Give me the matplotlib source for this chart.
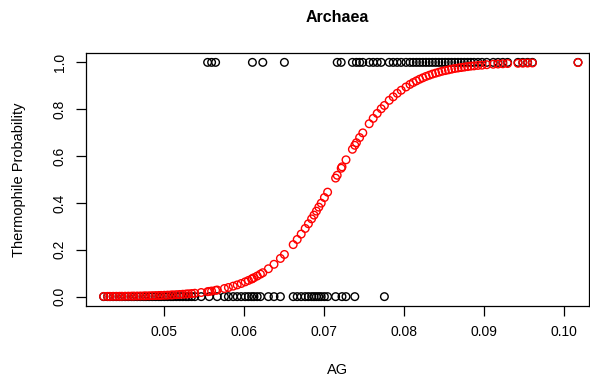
import matplotlib
matplotlib.use('Agg')
import matplotlib.pyplot as plt

plt.rcParams['font.family'] = ['Liberation Sans', 'DejaVu Sans']

# observed non-thermophiles (y = 0)
ag_neg = [0.0425, 0.0430, 0.0433, 0.0437, 0.0441, 0.0445, 0.0448, 0.0452, 0.0456, 0.0460,
          0.0463, 0.0467, 0.0471, 0.0475, 0.0478, 0.0482, 0.0486, 0.0490, 0.0494, 0.0497,
          0.0501, 0.0505, 0.0509, 0.0512, 0.0516, 0.0520, 0.0524, 0.0528, 0.0531, 0.0535,
          0.0539, 0.0547, 0.0557, 0.0567, 0.0576, 0.0581, 0.0587, 0.0592, 0.0597, 0.0602,
          0.0606, 0.0610, 0.0613, 0.0617, 0.0621, 0.0631, 0.0638, 0.0646, 0.0662, 0.0667,
          0.0672, 0.0677, 0.0681, 0.0685, 0.0688, 0.0691, 0.0694, 0.0697, 0.0701, 0.0705,
          0.0715, 0.0723, 0.0728, 0.0739, 0.0776]
prob_neg = [0.0009, 0.0011, 0.0011, 0.0013, 0.0014, 0.0015, 0.0016, 0.0018, 0.0020, 0.0022,
            0.0024, 0.0026, 0.0028, 0.0031, 0.0034, 0.0037, 0.0041, 0.0045, 0.0050, 0.0053,
            0.0059, 0.0064, 0.0071, 0.0076, 0.0084, 0.0092, 0.0102, 0.0112, 0.0120, 0.0132,
            0.0145, 0.0176, 0.0223, 0.0282, 0.0346, 0.0389, 0.0448, 0.050, 0.056, 0.063,
            0.069, 0.075, 0.081, 0.088, 0.096, 0.119, 0.138, 0.163, 0.222, 0.244,
            0.267, 0.291, 0.311, 0.332, 0.348, 0.365, 0.382, 0.399, 0.423, 0.446,
            0.506, 0.554, 0.584, 0.646, 0.816]

# observed thermophiles (y = 1)
ag_pos = [0.0555, 0.0560, 0.0565, 0.0611, 0.0624, 0.0651, 0.0717, 0.0722, 0.0736, 0.0741,
          0.0745, 0.0749, 0.0757, 0.0762, 0.0767, 0.0772, 0.0782, 0.0787, 0.0792, 0.0797,
          0.0803, 0.0808, 0.0812, 0.0816, 0.0820, 0.0824, 0.0828, 0.0832, 0.0836, 0.0840,
          0.0844, 0.0848, 0.0852, 0.0856, 0.0860, 0.0864, 0.0868, 0.0872, 0.0876, 0.0880,
          0.0884, 0.0888, 0.0893, 0.0898, 0.0904, 0.0912, 0.0918, 0.0924, 0.0930, 0.0943,
          0.0949, 0.0955, 0.0961, 0.1018]
prob_pos = [0.0212, 0.0239, 0.0268, 0.077, 0.102, 0.180, 0.518, 0.548, 0.629, 0.657,
            0.679, 0.699, 0.738, 0.761, 0.782, 0.802, 0.838, 0.853, 0.868, 0.881,
            0.895, 0.906, 0.914, 0.921, 0.928, 0.934, 0.940, 0.945, 0.950, 0.954,
            0.958, 0.962, 0.965, 0.968, 0.971, 0.974, 0.976, 0.978, 0.980, 0.982,
            0.984, 0.985, 0.987, 0.988, 0.990, 0.992, 0.993, 0.994, 0.995, 0.996,
            0.9965, 0.997, 0.9974, 0.9993]

x_ticks = [0.05, 0.06, 0.07, 0.08, 0.09, 0.10]
y_ticks = [0.0, 0.2, 0.4, 0.6, 0.8, 1.0]

W, H = 590, 381
fig = plt.figure(figsize=(W / 100, H / 100), dpi=100)
ax = fig.add_axes([86 / W, (H - 306) / H, (589 - 86) / W, (306 - 53) / H])

ax.scatter(ag_neg, [0] * len(ag_neg), s=30, facecolors='none', edgecolors='black', linewidths=1.0)
ax.scatter(ag_pos, [1] * len(ag_pos), s=30, facecolors='none', edgecolors='black', linewidths=1.0)
ax.scatter(ag_neg + ag_pos, prob_neg + prob_pos, s=30, facecolors='none', edgecolors='red', linewidths=1.0)

ax.set_xlim(0.0403, 0.0403 + 503 / 8000)
ax.set_ylim(-0.04, 1.04)
ax.set_xticks(x_ticks)
ax.set_xticklabels([f'{v:.2f}' for v in x_ticks])
ax.set_yticks(y_ticks)
ax.set_yticklabels([f'{v:.1f}' for v in y_ticks], rotation=90, va='center')
ax.tick_params(direction='out', length=7, width=0.9, labelsize=10, pad=7)
for sp in ax.spines.values():
    sp.set_linewidth(0.9)

ax.set_xlabel('AG', fontsize=10.5, labelpad=17)
ax.set_ylabel('Thermophile Probability', fontsize=10.5, labelpad=19)
ax.set_title('Archaea', fontsize=11.5, fontweight='bold', pad=22)

fig.savefig('out.png', dpi=100)
